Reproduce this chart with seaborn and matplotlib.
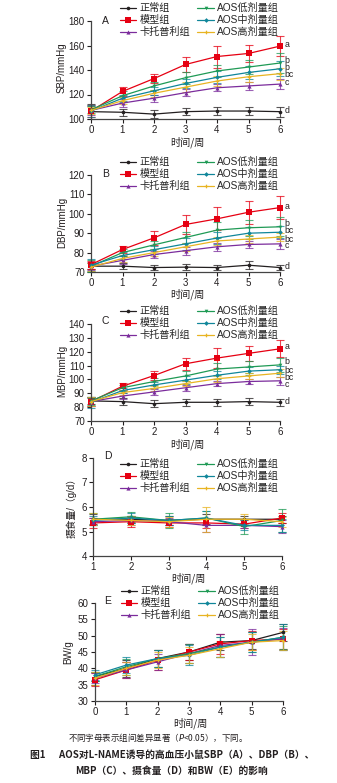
import numpy as np
import pandas as pd
import matplotlib
matplotlib.use("Agg")
import matplotlib.pyplot as plt
from matplotlib.lines import Line2D
import seaborn as sns

# ---- groups ----
groups = ["正常组", "模型组", "卡托普利组", "AOS低剂量组", "AOS中剂量组", "AOS高剂量组"]
colors = ["#231f20", "#e60012", "#7b2c9c", "#1f9a55", "#10869a", "#e8b422"]
markers = ["o", "s", "^", "v", "D", "P"]
msizes = [2.6, 4.2, 3.0, 2.6, 2.4, 2.6]

weeks = [0, 1, 2, 3, 4, 5, 6]
weeks_food = [1, 2, 3, 4, 5, 6]

# ---- SBP (mmHg) ----
sbp = {
    "正常组":     [106, 105.5, 104, 106, 106.5, 106.5, 106],
    "模型组":     [106.5, 122.5, 133, 144.5, 151, 153.5, 159.5],
    "卡托普利组": [107, 113, 117, 121.5, 125.5, 127, 128.5],
    "AOS低剂量组": [107.5, 119, 127, 133.7, 139.2, 142.4, 145.7],
    "AOS中剂量组": [106.5, 117, 123, 129, 134, 138, 141],
    "AOS高剂量组": [107, 115, 121, 126, 131, 134.5, 137],
}
sbp_sd = {
    "正常组":     [6, 3, 3, 3, 3, 3, 4],
    "模型组":     [5, 4, 4, 6, 9, 7, 8],
    "卡托普利组": [4, 3, 3, 3, 3, 3, 4],
    "AOS低剂量组": [3, 4, 3, 5, 5, 6, 8],
    "AOS中剂量组": [5, 3, 3, 4, 5, 5, 6],
    "AOS高剂量组": [3, 3, 3, 4, 4, 4, 5],
}
sbp_sig = ["d", "a", "c", "b", "b", "bc"]
sbp_sig_y = [107.3, 161.2, 130.2, 147.6, 142.2, 136.5]

# ---- DBP (mmHg) ----
dbp = {
    "正常组":     [73, 73, 72.3, 72.5, 72.3, 73.5, 72.3],
    "模型组":     [73.8, 81.6, 87.6, 94.5, 97.4, 100.8, 103.2],
    "卡托普利组": [73, 76, 79, 81, 83, 84.2, 84.5],
    "AOS低剂量组": [73, 80, 84, 87.8, 91.6, 92.8, 93.3],
    "AOS中剂量组": [73.5, 78.5, 81.5, 84.5, 87.5, 90, 90.5],
    "AOS高剂量组": [72.5, 77, 80, 83, 86, 87, 88],
}
dbp_sd = {
    "正常组":     [1.5, 1.5, 1.5, 1.5, 1.5, 2, 1.5],
    "模型组":     [2, 2, 3.5, 5, 6, 6, 6],
    "卡托普利组": [2, 2, 2, 2, 2, 2, 2.5],
    "AOS低剂量组": [3, 2, 2, 3, 4, 4, 5],
    "AOS中剂量组": [3, 2, 2, 3, 3, 3, 3],
    "AOS高剂量组": [2, 2, 2, 2, 2, 2, 2],
}
dbp_sig = ["d", "a", "c", "b", "bc", "bc"]
dbp_sig_y = [72.8, 104, 83.6, 94.9, 91.2, 87]

# ---- MBP (mmHg) ----
mbp = {
    "正常组":     [84.5, 84, 82.5, 83.5, 83.5, 84, 83.5],
    "模型组":     [84, 95.1, 102.8, 111.3, 115.4, 118.8, 122.1],
    "卡托普利组": [84, 88, 91, 94, 97, 98.5, 99],
    "AOS低剂量组": [84.5, 94, 98.5, 102.5, 107.5, 109, 110.5],
    "AOS中剂量组": [83.5, 92, 96, 99.5, 103, 106, 107],
    "AOS高剂量组": [84, 90.5, 93.5, 97, 100.5, 102.5, 104.5],
}
mbp_sd = {
    "正常组":     [2, 2.5, 2.5, 2.5, 2.5, 2.5, 2.5],
    "模型组":     [3, 2.5, 3.5, 4.5, 7, 5.5, 6],
    "卡托普利组": [3, 2, 2, 2, 2, 2, 3],
    "AOS低剂量组": [3, 2, 2.5, 3.5, 4.5, 4, 5],
    "AOS中剂量组": [4, 2, 2, 3, 3, 3, 3],
    "AOS高剂量组": [3, 2, 2, 2, 2, 2.5, 3],
}
mbp_sig = ["d", "a", "c", "b", "bc", "bc"]
mbp_sig_y = [84.2, 124.1, 96.5, 112.8, 106.3, 101.1]

# ---- food intake (g/d) ----
food = {
    "正常组":     [5.5, 5.5, 5.45, 5.5, 5.5, 5.5],
    "模型组":     [5.35, 5.4, 5.35, 5.35, 5.3, 5.55],
    "卡托普利组": [5.4, 5.45, 5.4, 5.25, 5.25, 5.2],
    "AOS低剂量组": [5.5, 5.6, 5.45, 5.55, 5.2, 5.45],
    "AOS中剂量组": [5.45, 5.55, 5.45, 5.55, 5.25, 5.25],
    "AOS高剂量组": [5.5, 5.45, 5.4, 5.5, 5.5, 5.4],
}
food_sd = {
    "正常组":     [0.2, 0.15, 0.2, 0.2, 0.15, 0.15],
    "模型组":     [0.2, 0.2, 0.15, 0.2, 0.15, 0.2],
    "卡托普利组": [0.15, 0.2, 0.15, 0.25, 0.1, 0.25],
    "AOS低剂量组": [0.25, 0.2, 0.3, 0.3, 0.3, 0.45],
    "AOS中剂量组": [0.2, 0.2, 0.2, 0.3, 0.2, 0.25],
    "AOS高剂量组": [0.25, 0.2, 0.2, 0.5, 0.2, 0.2],
}

# ---- body weight (g) ----
bw = {
    "正常组":     [37.5, 40, 43, 45, 48, 48.5, 51],
    "模型组":     [36.5, 39.5, 42.5, 45, 47.5, 48.5, 49],
    "卡托普利组": [37, 39.5, 42, 44.5, 47, 48, 49],
    "AOS低剂量组": [37.5, 40.5, 43, 44.5, 46.5, 48, 49.5],
    "AOS中剂量组": [38, 41, 43, 44, 46.5, 48, 49.5],
    "AOS高剂量组": [37, 40, 42.5, 44, 46, 48, 48.5],
}
bw_sd = {
    "正常组":     [1.5, 2.5, 2.5, 2.5, 2.5, 2.5, 2.5],
    "模型组":     [2, 2.5, 3, 2.5, 3, 3, 3],
    "卡托普利组": [1.5, 2.5, 2.5, 3, 3.5, 4, 3.5],
    "AOS低剂量组": [1.5, 2.5, 2.5, 3, 3, 3, 3.5],
    "AOS中剂量组": [1.5, 2.5, 2.5, 3, 3, 3, 4],
    "AOS高剂量组": [2, 2, 2.5, 2.5, 2.5, 2.5, 3],
}

sns.set_theme(style="ticks")
plt.rcParams["font.family"] = ["Liberation Sans", "Noto Sans CJK SC"]
plt.rcParams["axes.unicode_minus"] = False

W, H = 337, 783
fig = plt.figure(figsize=(W / 100, H / 100), dpi=100)
fig.patch.set_facecolor("white")


def fx(x):
    return x / W


def fy(y):
    return 1 - y / H


def make_axes(left, top, right, bottom):
    return fig.add_axes([fx(left), fy(bottom), (right - left) / W, (bottom - top) / H])


palette = dict(zip(groups, colors))
mk = dict(zip(groups, markers))


def draw_panel(ax, x, data, sd, ylim, yticks, xlim, xticks):
    rows = []
    for g in groups:
        for xi, v in zip(x, data[g]):
            rows.append({"week": xi, "value": v, "group": g})
    df = pd.DataFrame(rows)
    for g, c in zip(groups, colors):
        ax.errorbar(x, data[g], yerr=sd[g], fmt="none", ecolor=c, elinewidth=0.8,
                    capsize=3.2, capthick=0.8, alpha=0.75, clip_on=False, zorder=2)
    sns.lineplot(data=df, x="week", y="value", hue="group", style="group",
                 hue_order=groups, style_order=groups, palette=palette,
                 markers=mk, dashes=False, linewidth=0.9, markeredgewidth=0,
                 errorbar=None, legend=False, ax=ax, zorder=3, clip_on=False)
    for line, ms in zip(ax.get_lines()[-len(groups):], msizes):
        line.set_markersize(ms)
    ax.set_xlim(*xlim)
    ax.set_ylim(*ylim)
    ax.set_xticks(xticks)
    ax.set_yticks(yticks)
    ax.set_xlabel("")
    ax.set_ylabel("")
    ax.tick_params(axis="both", direction="out", length=3, width=0.8,
                   labelsize=7, pad=1.5, colors="#231f20")
    for s in ["top", "right"]:
        ax.spines[s].set_visible(False)
    for s in ["left", "bottom"]:
        ax.spines[s].set_linewidth(0.9)
        ax.spines[s].set_color("#444444")
    ax.patch.set_alpha(0)


def add_legend(x_left, y_top):
    handles = [Line2D([], [], color=c, marker=m, markersize=ms, markeredgewidth=0, linewidth=0.9)
               for c, m, ms in zip(colors, markers, msizes)]
    fig.legend(handles, groups, loc="upper left", bbox_to_anchor=(fx(x_left), fy(y_top)),
               ncol=2, frameon=False, borderpad=0, borderaxespad=0,
               handlelength=1.6, handletextpad=0.35, columnspacing=0.7,
               labelspacing=0.2, prop={"family": ["Liberation Sans", "Noto Sans CJK SC"], "size": 7.3})


def add_sig(ax, labels, ys):
    for lab, yv in zip(labels, ys):
        ax.annotate(lab, xy=(1.0, yv), xycoords=("axes fraction", "data"),
                    xytext=(3, 0), textcoords="offset points", ha="left", va="center",
                    fontsize=6.3, color="#231f20", annotation_clip=False)


def ylabel(text, x, y):
    fig.text(fx(x), fy(y), text, rotation=90, ha="center", va="center", fontsize=7,
             color="#231f20", family=["Liberation Sans", "Noto Sans CJK SC"])


def xlabel(text, x, y):
    fig.text(fx(x), fy(y), text, ha="center", va="center", fontsize=7.3,
             color="#231f20", family=["Noto Sans CJK SC", "Liberation Sans"])


def letter(text, x, y):
    fig.text(fx(x), fy(y), text, ha="left", va="center", fontsize=7.5, color="#231f20")


# A: SBP
axA = make_axes(91, 21, 280, 119)
draw_panel(axA, weeks, sbp, sbp_sd, (100, 180), [100, 120, 140, 160, 180], (0, 6), weeks)
add_sig(axA, sbp_sig, sbp_sig_y)
add_legend(120, 3)
ylabel("SBP/mmHg", 62, 68)
xlabel("时间/周", 187, 142)
letter("A", 102, 21)

# B: DBP
axB = make_axes(91, 175, 280, 272)
draw_panel(axB, weeks, dbp, dbp_sd, (70, 120), [70, 80, 90, 100, 110, 120], (0, 6), weeks)
add_sig(axB, dbp_sig, dbp_sig_y)
add_legend(120, 157)
ylabel("DBP/mmHg", 62, 222)
xlabel("时间/周", 187, 294)
letter("B", 102, 174)

# C: MBP
axC = make_axes(91, 324, 280, 421)
draw_panel(axC, weeks, mbp, mbp_sd, (70, 140), [70, 80, 90, 100, 110, 120, 130, 140], (0, 6), weeks)
add_sig(axC, mbp_sig, mbp_sig_y)
add_legend(120, 306)
ylabel("MBP/mmHg", 62, 371)
xlabel("时间/周", 187, 444)
letter("C", 102, 321)

# D: food intake
axD = make_axes(93, 458, 282, 556)
draw_panel(axD, weeks_food, food, food_sd, (4, 8), [4, 5, 6, 7, 8], (1, 6), weeks_food)
add_legend(120, 459)
ylabel("摄食量/（g/d）", 71, 506)
xlabel("时间/周", 188, 578)
letter("D", 104, 456)

# E: body weight
axE = make_axes(95, 603, 283, 701)
draw_panel(axE, weeks, bw, bw_sd, (30, 60), [30, 35, 40, 45, 50, 55, 60], (0, 6), weeks)
add_legend(121, 586)
ylabel("BW/g", 68, 652)
xlabel("时间/周", 190, 723)
letter("E", 104, 601)

# caption
cap_family = ["Noto Sans CJK SC", "Liberation Serif"]
fig.text(fx(156), fy(738), "不同字母表示组间差异显著（$P$<0.05），下同。", ha="center", va="center",
         fontsize=6.1, color="#231f20", family=cap_family)
fig.text(fx(172), fy(755), "图1      AOS对L-NAME诱导的高血压小鼠SBP（A）、DBP（B）、", ha="center", va="center",
         fontsize=7.0, fontweight="bold", color="#231f20", family=cap_family)
fig.text(fx(171), fy(771), "MBP（C）、摄食量（D）和BW（E）的影响", ha="center", va="center",
         fontsize=7.0, fontweight="bold", color="#231f20", family=cap_family)

fig.savefig("out.png", dpi=100, facecolor="white")
